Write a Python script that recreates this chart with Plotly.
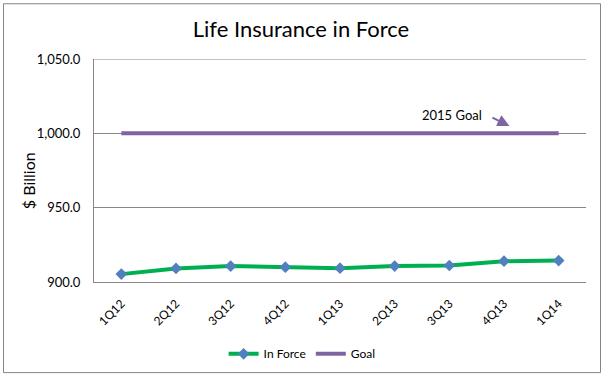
import plotly.graph_objects as go

quarters = ["1Q12", "2Q12", "3Q12", "4Q12", "1Q13", "2Q13", "3Q13", "4Q13", "1Q14"]
in_force = [905.3, 909.1, 910.7, 910.0, 909.3, 910.7, 911.1, 914.0, 914.4]
goal = [1000.0] * 9
y_ticks = [900, 950, 1000, 1050]

FONT = "Lato"
GRID = "#868686"

fig = go.Figure()
fig.add_trace(go.Scatter(
    x=quarters, y=in_force, name="In Force", mode="lines+markers",
    line=dict(color="#00B050", width=4),
    marker=dict(symbol="diamond", size=9, color="#4F81BD"),
))
fig.add_trace(go.Scatter(
    x=quarters, y=goal, name="Goal", mode="lines",
    line=dict(color="#8064A2", width=4),
))

fig.update_layout(
    width=605, height=379,
    margin=dict(l=94, r=19, t=59, b=96),
    paper_bgcolor="white", plot_bgcolor="white",
    font=dict(family=FONT, color="black", size=12),
    title=dict(text="Life Insurance in Force", x=301/605, xref="container", xanchor="center",
               y=1-29.5/379, yref="container", yanchor="middle",
               font=dict(family=FONT, size=22, color="black")),
    showlegend=True,
    legend=dict(orientation="h", x=0.423, xanchor="center", y=-0.316, yanchor="middle",
                font=dict(size=12), itemwidth=30, tracegroupgap=0),
)
fig.update_xaxes(
    type="category", range=[-0.5, 8.5], tickangle=-45,
    showgrid=False, showline=True, linecolor=GRID, linewidth=1,
    ticks="", ticklabelstandoff=9, tickfont=dict(size=12),
)
fig.update_yaxes(
    range=[900, 1050], tickvals=y_ticks, tickformat=",.1f",
    showgrid=True, gridcolor=GRID, gridwidth=1,
    showline=True, linecolor=GRID, linewidth=1, zeroline=False,
    ticks="", ticklabelstandoff=10, tickfont=dict(size=13),
)

# top gridline at 1,050
fig.add_shape(type="line", xref="paper", yref="y", x0=0, x1=1, y0=1050, y1=1050,
              line=dict(color=GRID, width=1))

# y-axis title
fig.add_annotation(text="$ Billion", xref="paper", yref="paper", x=(28-94)/492, y=(283.3-182)/224,
                   textangle=-90, showarrow=False, font=dict(size=16, color="black"),
                   xanchor="center", yanchor="middle")

# goal annotation text + arrow
fig.add_annotation(text="2015 Goal", x=6.05, y=1012.4, xref="x", yref="y", showarrow=False,
                   font=dict(size=13, color="black"))
fig.add_annotation(text="", x=7.1, y=1004.9, ax=6.76, ay=1011.1, xref="x", yref="y",
                   axref="x", ayref="y", showarrow=True, arrowhead=2, arrowsize=1.2,
                   arrowwidth=2, arrowcolor="#8064A2")

# chart border
fig.add_shape(type="rect", xref="paper", yref="paper",
              x0=(3.5-94)/492, x1=(600.5-94)/492, y0=(283-374)/224, y1=(283-3.5)/224,
              line=dict(color="#868686", width=1), fillcolor="rgba(0,0,0,0)", layer="below")

fig.write_html("out.html", config={"displayModeBar": False})

# remove default page margin so the figure sits at the window origin
with open("out.html", encoding="utf-8") as f:
    html = f.read()
html = html.replace("<body>", '<body style="margin:0;padding:0;overflow:hidden">', 1)
with open("out.html", "w", encoding="utf-8") as f:
    f.write(html)
